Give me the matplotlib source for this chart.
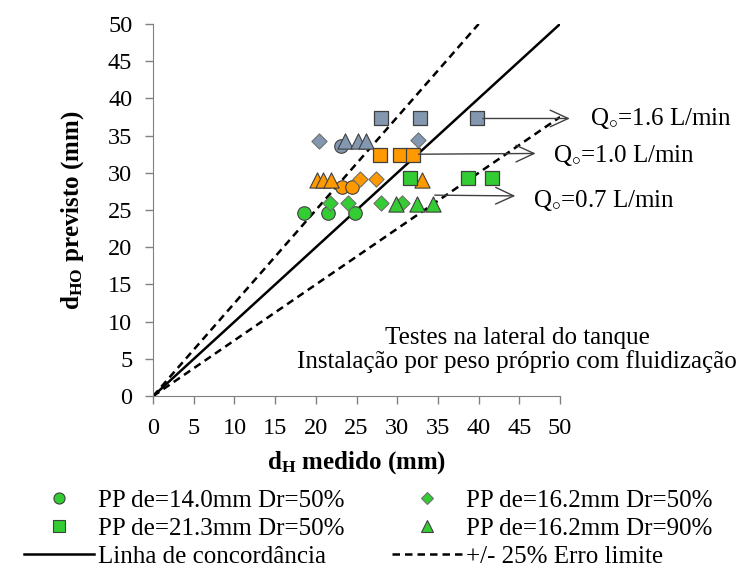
import matplotlib
matplotlib.use("Agg")
import matplotlib.pyplot as plt
from matplotlib.lines import Line2D

plt.rcParams['font.family'] = ['Liberation Serif', 'DejaVu Serif']
plt.rcParams['mathtext.fontset'] = 'custom'
plt.rcParams['mathtext.rm'] = 'Liberation Serif'
plt.rcParams['mathtext.it'] = 'Liberation Serif:italic'
plt.rcParams['mathtext.bf'] = 'Liberation Serif:bold'

# colours per flow rate
flows = ['1.6', '1.0', '0.7']
colors = {'1.6': '#8497B0', '1.0': '#FF9900', '0.7': '#33CC33'}

# measured dH (x) vs predicted dHO (y), grouped by flow and pile type
circ_x = {'1.6': [23.1], '1.0': [23.2, 24.4], '0.7': [18.5, 21.5, 24.8]}
circ_y = {'1.6': [33.6], '1.0': [28.1, 28.1], '0.7': [24.6, 24.6, 24.6]}

diam_x = {'1.6': [20.4, 32.5], '1.0': [25.4, 27.4], '0.7': [21.7, 24.0, 28.0, 30.6]}
diam_y = {'1.6': [34.3, 34.4], '1.0': [29.2, 29.2], '0.7': [25.9, 25.9, 25.9, 25.9]}

sq_x = {'1.6': [28.0, 32.8, 39.8], '1.0': [27.9, 30.3, 31.9], '0.7': [31.6, 38.7, 41.6]}
sq_y = {'1.6': [37.3, 37.3, 37.3], '1.0': [32.4, 32.4, 32.4], '0.7': [29.3, 29.3, 29.3]}

tri_x = {'1.6': [23.6, 25.2, 26.2], '1.0': [20.1, 20.9, 21.8, 33.0], '0.7': [29.9, 32.4, 34.4]}
tri_y = {'1.6': [34.3, 34.3, 34.3], '1.0': [29.0, 29.0, 29.0, 29.0], '0.7': [25.8, 25.8, 25.8]}

# arrows pointing to the flow labels: (x0, y0, x1, y1, label x, label y)
arrows = {
    '1.6': (40.5, 37.3, 51.2, 37.3, 53.7, 37.3),
    '1.0': (32.6, 32.5, 47.0, 32.6, 49.1, 32.3),
    '0.7': (34.6, 27.0, 44.5, 26.9, 46.7, 26.3),
}

legend_labels = ['PP de=14.0mm Dr=50%', 'PP de=21.3mm Dr=50%', 'Linha de concordância',
                 'PP de=16.2mm Dr=50%', 'PP de=16.2mm Dr=90%', '+/- 25% Erro limite']

fig = plt.figure(figsize=(7.36, 5.70), dpi=100)
ax = fig.add_axes([0.208, 0.305, 0.553, 0.653])

# reference lines
ax.plot([0, 50], [0, 50], color='black', lw=1.8, zorder=2)
ax.plot([0, 40], [0, 50], color='black', lw=1.8, ls=(0, (3, 2)), zorder=2)
ax.plot([0, 50], [0, 37.5], color='black', lw=1.8, ls=(0, (3, 2)), zorder=2)

edge = '#404040'
for f in flows:
    c = colors[f]
    ax.scatter(circ_x[f], circ_y[f], marker='o', s=95, color=c, edgecolor=edge, lw=0.8, zorder=3)
    ax.scatter(diam_x[f], diam_y[f], marker='D', s=60, color=c, edgecolor='#707070', lw=0.8, zorder=3)
    ax.scatter(sq_x[f], sq_y[f], marker='s', s=110, color=c, edgecolor=edge, lw=0.9, zorder=3)
    ax.scatter(tri_x[f], tri_y[f], marker='^', s=120, color=c, edgecolor=edge, lw=0.8, zorder=3)

for f in flows:
    x0, y0, x1, y1, lx, ly = arrows[f]
    ax.annotate('', xy=(x1, y1), xytext=(x0, y0), annotation_clip=False,
                arrowprops=dict(arrowstyle='->,head_length=1.3,head_width=0.6',
                                color='#404040', lw=1.0, shrinkA=0, shrinkB=0))
    ax.text(lx, ly, 'Q$_{\\circ}$=' + f + ' L/min', fontsize=18, va='center', ha='left',
            clip_on=False)

ax.text(44.7, 6.2, 'Testes na lateral do tanque\nInstalação por peso próprio com fluidização',
        fontsize=18, ha='center', va='center', multialignment='center', linespacing=1.05)

ax.set_xlim(0, 50)
ax.set_ylim(0, 50)
ax.set_xticks(range(0, 51, 5))
ax.set_yticks(range(0, 51, 5))
ax.tick_params(labelsize=17.5, color='#808080', length=6, width=1)
ax.tick_params(axis='x', pad=10)
ax.tick_params(axis='y', pad=9)
for lbl in ax.get_xticklabels() + ax.get_yticklabels():
    lbl.set_fontfamily('Liberation Serif')
for s in ['top', 'right']:
    ax.spines[s].set_visible(False)
for s in ['left', 'bottom']:
    ax.spines[s].set_color('#808080')

ax.set_xlabel(r'$\mathbf{d_{H}}$ medido (mm)', fontsize=18, fontweight='bold', labelpad=7)
ax.set_ylabel(r'$\mathbf{d_{HO}}$ previsto (mm)', fontsize=18, fontweight='bold', labelpad=16)

g = colors['0.7']
handles = [
    Line2D([], [], ls='', marker='o', ms=8, mfc=g, mec=edge, mew=0.8),
    Line2D([], [], ls='', marker='s', ms=8, mfc=g, mec=edge, mew=0.8),
    Line2D([], [], color='black', lw=1.8),
    Line2D([], [], ls='', marker='D', ms=6, mfc=g, mec='#707070', mew=0.8),
    Line2D([], [], ls='', marker='^', ms=8, mfc=g, mec=edge, mew=0.8),
    Line2D([], [], color='black', lw=1.8, ls=(0, (3, 2))),
]
fig.legend(handles, legend_labels, ncol=2, loc='lower center', bbox_to_anchor=(0.5, -0.036),
           frameon=False, fontsize=18, handlelength=2.8, columnspacing=1.9,
           labelspacing=0.22, handletextpad=0.15)

fig.savefig('out.png', dpi=100)
